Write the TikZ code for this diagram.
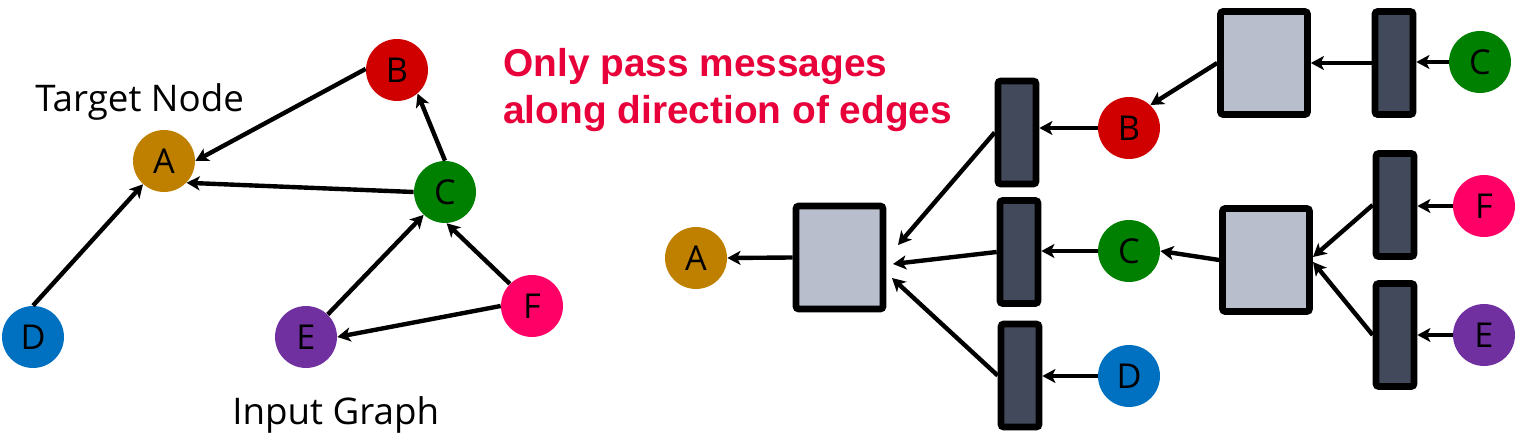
\documentclass[tikz,border=0pt]{standalone}
\usepackage{fontspec}
\setmainfont{Open Sans}
\newfontfamily\redfont{Liberation Sans}
\usetikzlibrary{arrows.meta,calc}
\definecolor{cA}{RGB}{191,128,0}
\definecolor{cB}{RGB}{208,0,0}
\definecolor{cC}{RGB}{0,128,0}
\definecolor{cD}{RGB}{0,112,192}
\definecolor{cE}{RGB}{112,48,160}
\definecolor{cF}{RGB}{255,0,102}
\definecolor{redtxt}{RGB}{232,0,58}
\definecolor{aggfill}{RGB}{184,190,203}
\definecolor{barfill}{RGB}{65,73,91}
\begin{document}
\begin{tikzpicture}[x=0.02cm,y=-0.02cm,
  vert/.style={circle,inner sep=0pt,minimum size=1.24cm,font=\fontsize{19.5}{22}\selectfont},
  agg/.style={draw=black,fill=aggfill,line width=3.8pt,rounded corners=1.5pt,minimum width=1.74cm,minimum height=2.06cm,inner sep=0pt},
  nnbar/.style={draw=black,fill=barfill,line width=3.8pt,rounded corners=1.5pt,minimum width=0.76cm,minimum height=2.06cm,inner sep=0pt},
  edge/.style={line width=2.5pt,-{Stealth[length=7.5pt,width=8pt,inset=2pt]}},
  lbl/.style={font=\fontsize{20.9}{25}\selectfont,inner sep=0pt,anchor=base west},
  redlbl/.style={font=\redfont\bfseries\fontsize{22.1}{26}\selectfont,text=redtxt,inner sep=0pt,anchor=base west}]
\useasboundingbox (0,0) rectangle (1526,442);
% ---------- left input graph ----------
\node[vert,fill=cA] (A) at (164,161) {A};
\node[vert,fill=cB] (B) at (397,70) {B};
\node[vert,fill=cC] (C) at (445,192) {C};
\node[vert,fill=cD] (D) at (33,337) {D};
\node[vert,fill=cE] (E) at (306,337) {E};
\node[vert,fill=cF] (F) at (532,306) {F};
\node[lbl] (tn) at (35,112) {Target Node};
\node[lbl] (ig) at (232,424) {Input Graph};
\draw[edge] (B.178) -- (A.0);
\draw[edge] (C.180) -- (A.-44);
\draw[edge] (D.north) -- (A.228);
\draw[edge] (C.north) -- (B.-49);
\draw[edge] (E.46) -- (C.227);
\draw[edge] (F.135) -- (C.-87);
\draw[edge] (F.180) -- (E.0);
% ---------- text ----------
\node[redlbl] (r1) at (503,77) {Only pass messages};
\node[redlbl] (r2) at (503,124) {along direction of edges};
% ---------- computation graph ----------
\node[vert,fill=cA] (rA) at (696,258) {A};
\node[agg] (s1) at (839.5,257.5) {};
\node[nnbar] (bB) at (1017,132.5) {};
\node[nnbar] (bC) at (1019,252) {};
\node[nnbar] (bD) at (1020,375.5) {};
\node[vert,fill=cB] (rB) at (1129,128) {B};
\node[vert,fill=cC] (rC) at (1129,251) {C};
\node[vert,fill=cD] (rD) at (1129,376) {D};
\node[agg] (s0) at (1264,63) {};
\node[nnbar] (bT) at (1394,63) {};
\node[vert,fill=cC] (rCt) at (1480,62) {C};
\node[agg] (s2) at (1266,260) {};
\node[nnbar] (bF) at (1395,205) {};
\node[nnbar] (bE) at (1395,335) {};
\node[vert,fill=cF] (rF) at (1484,206) {F};
\node[vert,fill=cE] (rE) at (1484,335) {E};
\coordinate (t1) at (898,245);
\coordinate (t2) at (893,264);
\coordinate (t3) at (892,278);
\coordinate (t4) at (1313,257);
\coordinate (t5) at (1313,262);
\draw[edge] (s1.west) -- (rA.east);
\draw[edge] (bB.west) -- (t1);
\draw[edge] (bC.west) -- (t2);
\draw[edge] (bD.west) -- (t3);
\draw[edge] (rB.west) -- (rB.west -| bB.east);
\draw[edge] (rC.west) -- (rC.west -| bC.east);
\draw[edge] (rD.west) -- (rD.west -| bD.east);
\draw[edge] (s0.west) -- (rB.47);
\draw[edge] (bT.west) -- (s0.east);
\draw[edge] (rCt.west) -- (rCt.west -| bT.east);
\draw[edge] (s2.west) -- (rC.east);
\draw[edge] (bF.west) -- (t4);
\draw[edge] (bE.west) -- (t5);
\draw[edge] (rF.west) -- (rF.west -| bF.east);
\draw[edge] (rE.west) -- (rE.west -| bE.east);
\end{tikzpicture}
\end{document}
